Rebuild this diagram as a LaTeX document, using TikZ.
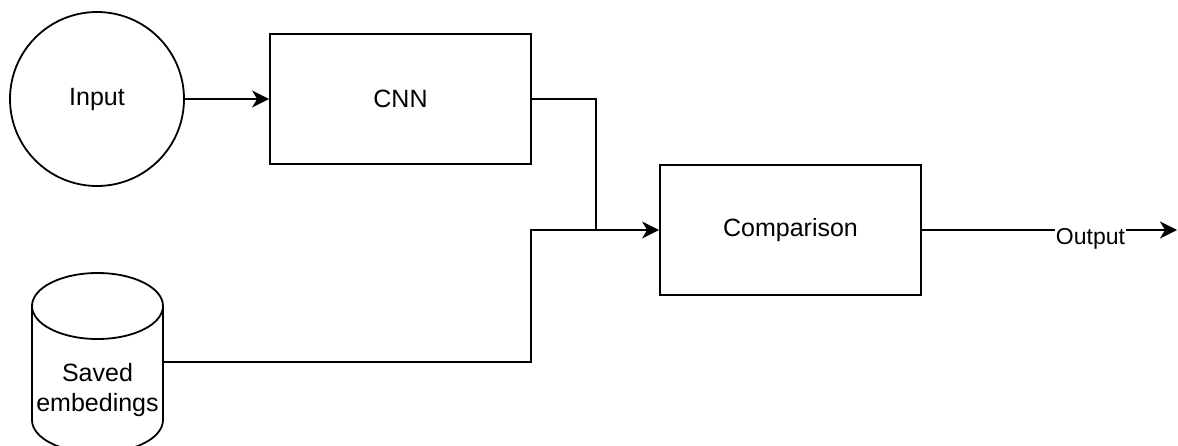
\documentclass[tikz,border=0pt]{standalone}
\usepackage{fontspec}
\setmainfont{Liberation Sans}
\usetikzlibrary{arrows.meta}
\tikzset{
  line/.style={line width=1.8pt, draw=black},
  arr/.style={line, -{Stealth[length=17pt, width=17pt, inset=5pt]}},
  boxnode/.style={line, rectangle, minimum width=261pt, minimum height=130pt, inner sep=0pt},
  txt/.style={font=\fontsize{25}{30}\selectfont, text=black},
  edgetxt/.style={font=\fontsize{23}{27}\selectfont, text=black, fill=white, inner sep=1pt}
}
\begin{document}
\begin{tikzpicture}[x=1pt, y=1pt]
  \useasboundingbox (0,0) rectangle (1178,-445);
  \fill[white] (0,0) rectangle (1178,-445);

  % processing blocks
  \node[line, circle, minimum size=174pt, inner sep=0pt, txt] (input) at (97,-99) {Input};
  \node[boxnode, txt] (cnn) at (400.5,-99) {CNN};
  \node[boxnode, txt] (cmp) at (790.5,-230) {Comparison};

  % database of stored embeddings (cylinder)
  \node[minimum width=131pt, minimum height=180pt, inner sep=0pt] (db) at (97.5,-362) {};
  \draw[line, fill=white] (32,-306) -- (32,-420) arc[start angle=180, end angle=360, x radius=65.5pt, y radius=33pt]
        -- (163,-306) arc[start angle=0, end angle=180, x radius=65.5pt, y radius=33pt];
  \draw[line] (32,-306) arc[start angle=180, end angle=360, x radius=65.5pt, y radius=33pt];
  \node[txt, align=center, inner sep=0pt] (dbl) at (97.5,-390) {Saved\\embedings};

  % junction points of the merging connectors
  \coordinate (j) at (596,-230);
  \coordinate (k) at (531,-230);
  \coordinate (out) at (1177,-230);

  % connectors
  \draw[arr] (input.east) -- (cnn.west);
  \draw[line] (db.east) -| (k) -- (j);
  \draw[arr] (cnn.east) -| (j) -- (cmp.west);
  \draw[arr] (cmp.east) -- (out);
  \node[edgetxt, anchor=base] (outl) at (1090.5,-244) {Output};
\end{tikzpicture}
\end{document}
